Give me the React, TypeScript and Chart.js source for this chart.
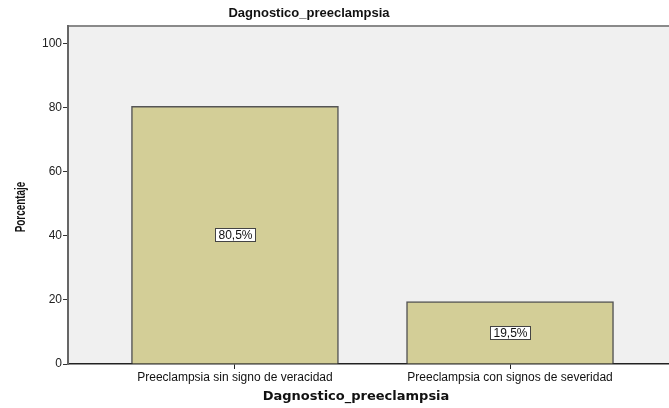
import React, { useEffect, useRef } from "react";
import { Chart, registerables } from "chart.js";

Chart.register(...registerables);

const chartTitle = "Dagnostico_preeclampsia";
const xAxisTitle = "Dagnostico_preeclampsia";
const yAxisTitle = "Porcentaje";
const categories = ["Preeclampsia sin signo de veracidad", "Preeclampsia con signos de severidad"];
const percentValues = [80.5, 19.5];
const yTickValues = [0, 20, 40, 60, 80, 100];

const FONT = "'Liberation Sans', Arial, sans-serif";

const decorPlugin = {
  id: "decor",
  beforeDraw(chart: any) {
    const { ctx, chartArea } = chart;
    ctx.save();
    ctx.fillStyle = "#F0F0F0";
    ctx.fillRect(chartArea.left, chartArea.top, chartArea.right - chartArea.left, chartArea.bottom - chartArea.top);
    ctx.strokeStyle = "#8a8a8a";
    ctx.lineWidth = 2;
    ctx.beginPath();
    ctx.moveTo(chartArea.left, chartArea.top);
    ctx.lineTo(chartArea.right, chartArea.top);
    ctx.stroke();
    ctx.restore();
  },
  afterDraw(chart: any) {
    const { ctx } = chart;
    ctx.save();
    ctx.fillStyle = "#111";
    ctx.textAlign = "center";
    ctx.textBaseline = "middle";
    ctx.font = `bold 13px ${FONT}`;
    ctx.fillText(chartTitle, 309, 13);
    ctx.font = `bold 13px 'DejaVu Sans', ${FONT}`;
    ctx.fillText(xAxisTitle, 356, 397);
    ctx.translate(21, 207);
    ctx.rotate(-Math.PI / 2);
    ctx.scale(0.66, 1);
    ctx.font = `bold 15px ${FONT}`;
    ctx.fillText(yAxisTitle, 0, 0);
    ctx.restore();
  },
  afterDatasetsDraw(chart: any) {
    const { ctx } = chart;
    const meta = chart.getDatasetMeta(0);
    ctx.save();
    ctx.font = `12px ${FONT}`;
    ctx.textAlign = "center";
    ctx.textBaseline = "middle";
    meta.data.forEach((el: any, i: number) => {
      const v = percentValues[i];
      const text = v.toFixed(1).replace(".", ",") + "%";
      const w = Math.round(ctx.measureText(text).width + 6);
      const h = 13;
      const left = Math.round(el.x - w / 2) + 0.5;
      const top = Math.round((el.y + el.base) / 2 - h / 2) + 0.5;
      ctx.fillStyle = "#ffffff";
      ctx.fillRect(left, top, w, h);
      ctx.strokeStyle = "#444";
      ctx.lineWidth = 1;
      ctx.strokeRect(left, top, w, h);
      ctx.fillStyle = "#111";
      ctx.fillText(text, left + w / 2, top + h / 2 + 0.5);
    });
    ctx.restore();
  },
};

export default function App() {
  const ref = useRef<HTMLCanvasElement>(null);
  useEffect(() => {
    if (!ref.current) return;
    const chart = new Chart(ref.current, {
      type: "bar",
      data: {
        datasets: [
          {
            data: categories.map((_, i) => ({ x: i + 1, y: percentValues[i] })),
            backgroundColor: "#D3CE97",
            borderColor: "#555555",
            borderWidth: 1.5,
            barThickness: 207,
          },
        ],
      },
      plugins: [decorPlugin],
      options: {
        animation: false,
        responsive: false,
        layout: { padding: { top: 26, right: 0, left: 0, bottom: 0 } },
        plugins: { legend: { display: false }, tooltip: { enabled: false }, title: { display: false } },
        scales: {
          x: {
            type: "linear",
            offset: false,
            min: 0.393,
            max: 2.578,
            afterBuildTicks: (scale: any) => {
              scale.ticks = categories.map((_, i) => ({ value: i + 1 }));
            },
            afterFit: (scale: any) => {
              scale.height = 44;
            },
            ticks: {
              autoSkip: false,
              maxRotation: 0,
              padding: 1,
              color: "#111",
              font: { family: FONT, size: 12 },
              callback: (v: any) => categories[Number(v) - 1] ?? "",
            },
            grid: { offset: false, drawOnChartArea: false, drawTicks: true, tickLength: 5, color: "#222", lineWidth: 1 },
            border: { display: true, color: "#222", width: 1.5 },
          },
          y: {
            min: 0,
            max: 105.6,
            afterBuildTicks: (scale: any) => {
              scale.ticks = yTickValues.map((v) => ({ value: v }));
            },
            afterFit: (scale: any) => {
              scale.width = 68;
            },
            ticks: {
              padding: 1,
              color: "#222",
              font: { family: FONT, size: 12 },
            },
            grid: { drawOnChartArea: false, drawTicks: true, tickLength: 5, color: "#333", lineWidth: 1 },
            border: { display: true, color: "#666", width: 2 },
          },
        },
      },
    });
    return () => chart.destroy();
  }, []);
  return (
    <div style={{ position: "fixed", left: 0, top: 0, width: 669, height: 408, background: "#fff" }}>
      <canvas ref={ref} width={669} height={408} style={{ width: 669, height: 408 }} />
    </div>
  );
}
